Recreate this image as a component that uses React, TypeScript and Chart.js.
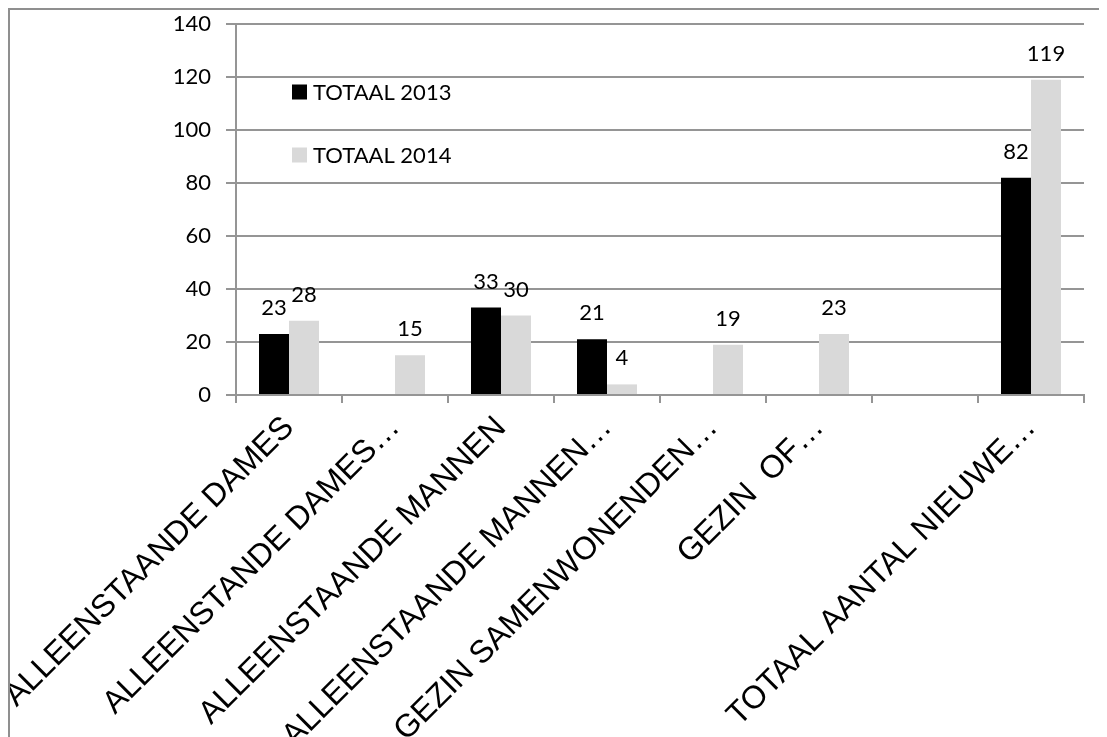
import React, { useEffect, useRef } from "react";
import { Chart, registerables } from "chart.js";

Chart.register(...registerables);

const categories = [
  "ALLEENSTAANDE DAMES",
  "ALLEENSTANDE DAMES…",
  "ALLEENSTAANDE MANNEN",
  "ALLEENSTAANDE MANNEN…",
  "GEZIN SAMENWONENDEN…",
  "GEZIN  OF…",
  "",
  "TOTAAL AANTAL NIEUWE…",
];
const seriesNames = ["TOTAAL 2013", "TOTAAL 2014"];
const totaal2013 = [23, null, 33, 21, null, null, null, 82];
const totaal2014 = [28, 15, 30, 4, 19, 23, null, 119];
const yTicks = [0, 20, 40, 60, 80, 100, 120, 140];

const GRID = "#959595";
const NUM_FONT = "Lato";
const LABEL_FONT = "'Liberation Sans', Arial, sans-serif";

const valueLabels = {
  id: "valueLabels",
  afterDatasetsDraw(chart: any) {
    const ctx = chart.ctx;
    ctx.save();
    ctx.fillStyle = "#000";
    ctx.font = `22px ${NUM_FONT}`;
    ctx.textAlign = "center";
    ctx.textBaseline = "alphabetic";
    chart.data.datasets.forEach((ds: any, di: number) => {
      const meta = chart.getDatasetMeta(di);
      meta.data.forEach((bar: any, i: number) => {
        const v = ds.data[i];
        if (v === null || v === undefined) return;
        ctx.fillText(String(v), bar.x, bar.y - 19);
      });
    });
    ctx.restore();
  },
};

const innerLegend = {
  id: "innerLegend",
  afterDraw(chart: any) {
    const ctx = chart.ctx;
    const a = chart.chartArea;
    ctx.save();
    ctx.font = `22px ${NUM_FONT}`;
    ctx.textBaseline = "middle";
    ctx.textAlign = "left";
    chart.data.datasets.forEach((ds: any, i: number) => {
      const cy = a.top + 68 + i * 63;
      const x = a.left + 56;
      ctx.fillStyle = ds.backgroundColor;
      ctx.fillRect(x, cy - 7.5, 15, 15);
      ctx.fillStyle = "#000";
      ctx.fillText(ds.label, x + 21, cy + 1);
    });
    ctx.restore();
  },
};

export default function App() {
  const ref = useRef<HTMLCanvasElement | null>(null);
  useEffect(() => {
    if (!ref.current) return;
    const chart = new Chart(ref.current, {
      type: "bar",
      data: {
        labels: categories,
        datasets: [
          { label: seriesNames[0], data: totaal2013, backgroundColor: "#000000" },
          { label: seriesNames[1], data: totaal2014, backgroundColor: "#d9d9d9" },
        ],
      },
      options: {
        responsive: false,
        animation: false,
        devicePixelRatio: 1,
        layout: { padding: { top: 14, right: 23, left: 0, bottom: 0 } },
        datasets: {
          bar: { categoryPercentage: 0.566, barPercentage: 1.0 },
        } as any,
        plugins: {
          legend: { display: false },
          tooltip: { enabled: false },
        },
        scales: {
          x: {
            offset: true,
            grid: {
              offset: true,
              drawOnChartArea: false,
              drawTicks: true,
              tickLength: 8,
              color: GRID,
              lineWidth: 2,
            },
            border: { display: true, color: GRID, width: 2 },
            ticks: {
              autoSkip: false,
              minRotation: 45,
              maxRotation: 45,
              padding: 6,
              color: "#000",
              font: { family: LABEL_FONT, size: 32 },
            },
            afterFit(scale: any) {
              scale.height = 342;
              scale.paddingLeft = 0;
              scale.paddingRight = 0;
              scale.paddingTop = 0;
              scale.paddingBottom = 0;
            },
          },
          y: {
            min: 0,
            max: 140,
            afterBuildTicks(scale: any) {
              scale.ticks = yTicks.map((v) => ({ value: v }));
            },
            grid: {
              color: GRID,
              lineWidth: 2,
              drawTicks: true,
              tickLength: 10,
            },
            border: { display: true, color: GRID, width: 2 },
            ticks: {
              padding: 15,
              color: "#000",
              font: { family: NUM_FONT, size: 22 },
            },
            afterFit(scale: any) {
              scale.width = 226;
              scale.paddingLeft = 0;
              scale.paddingRight = 0;
              scale.paddingTop = 0;
              scale.paddingBottom = 0;
            },
          },
        },
      },
      plugins: [valueLabels, innerLegend],
    });
    return () => chart.destroy();
  }, []);

  return (
    <div
      style={{
        width: 1097,
        height: 727,
        borderLeft: "2px solid #8f8f8f",
        borderTop: "2px solid #8f8f8f",
        overflow: "hidden",
        background: "#fff",
      }}
    >
      <canvas ref={ref} width={1097} height={727} style={{ display: "block" }} />
    </div>
  );
}
